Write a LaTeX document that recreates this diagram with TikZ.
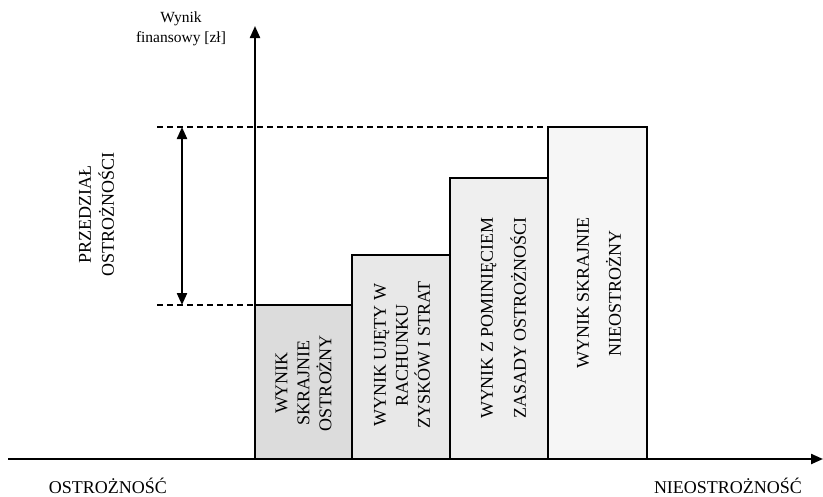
\documentclass[tikz,border=0pt]{standalone}
\usepackage{fontspec}
\setmainfont{Liberation Serif}
\usetikzlibrary{arrows.meta}
\definecolor{barA}{RGB}{220,220,220}
\definecolor{barB}{RGB}{232,232,232}
\definecolor{barC}{RGB}{239,239,239}
\definecolor{barD}{RGB}{246,246,246}
\begin{document}
\begin{tikzpicture}[x=1pt,y=-1pt,
  axis/.style={line width=2.2pt,-{Triangle[length=12pt,width=10pt]}},
  twoway/.style={line width=2.2pt,{Triangle[length=12pt,width=10pt]}-{Triangle[length=12pt,width=10pt]}},
  bar/.style={draw=black,line width=1.5pt},
  guide/.style={line width=1.3pt,dash pattern=on 6pt off 4pt},
  lbl/.style={font=\fontsize{18}{22}\selectfont,align=center,inner sep=0pt},
  vlbl/.style={lbl,rotate=90},
]
\useasboundingbox (0,0) rectangle (823,496);
% bars
\draw[bar,fill=barA] (255,459) rectangle (352,305);
\draw[bar,fill=barB] (352,459) rectangle (450,255);
\draw[bar,fill=barC] (450,459) rectangle (548,178);
\draw[bar,fill=barD] (548,459) rectangle (647,127);
% coordinates
\coordinate (O) at (255,459);
\coordinate (Ytop) at (255,26);
\coordinate (Xl) at (8,459);
\coordinate (Xr) at (823,459);
\coordinate (GTl) at (157,127);
\coordinate (GTr) at (548,127);
\coordinate (GBl) at (157,305);
\coordinate (GBr) at (255,305);
\coordinate (Atop) at (182,127);
\coordinate (Abot) at (182,305);
% guides
\draw[guide] (GTl) -- (GTr);
\draw[guide] (GBl) -- (GBr);
% axes
\draw[axis] (O) -- (Ytop);
\draw[axis] (Xl) -- (Xr);
\draw[twoway] (Atop) -- (Abot);
% labels
\node[lbl,font=\fontsize{15.5}{20}\selectfont] (ylab) at (181,29) {Wynik\\finansowy [zł]};
\node[vlbl,font=\fontsize{18}{23}\selectfont] (range) at (96.5,214.5) {PRZEDZIAŁ\\OSTROŻNOŚCI};
\node[lbl,anchor=base] (left) at (108,493) {OSTROŻNOŚĆ};
\node[lbl,anchor=base] (right) at (728,493) {NIEOSTROŻNOŚĆ};
\node[vlbl] (t1) at (303.5,383) {WYNIK\\SKRAJNIE\\OSTROŻNY};
\node[vlbl] (t2) at (402,355) {WYNIK UJĘTY W\\RACHUNKU\\ZYSKÓW I STRAT};
\node[vlbl,font=\fontsize{18}{33}\selectfont] (t3) at (503.5,318) {WYNIK Z POMINIĘCIEM\\ZASADY OSTROŻNOŚCI};
\node[vlbl,font=\fontsize{18}{32}\selectfont] (t4) at (599,293) {WYNIK SKRAJNIE\\NIEOSTROŻNY};
\end{tikzpicture}
\end{document}
